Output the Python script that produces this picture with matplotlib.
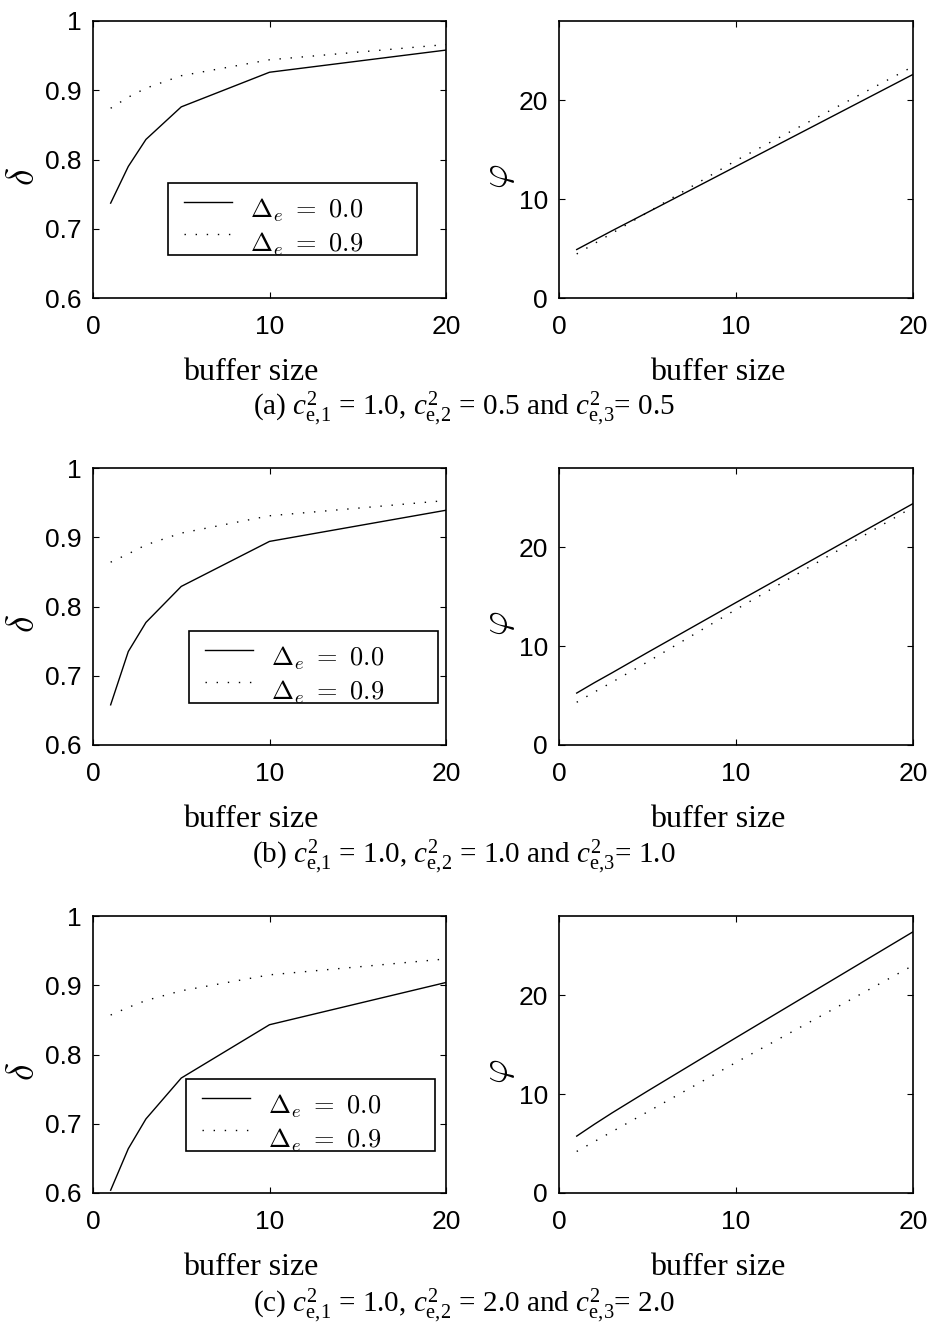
import matplotlib
matplotlib.use("Agg")
import matplotlib.pyplot as plt
from matplotlib.patches import Rectangle
from matplotlib.lines import Line2D

plt.rcParams["font.family"] = ["Liberation Sans", "DejaVu Sans"]
plt.rcParams["mathtext.fontset"] = "custom"
plt.rcParams["mathtext.rm"] = "Liberation Serif"
plt.rcParams["mathtext.it"] = "Liberation Serif:italic"
plt.rcParams["mathtext.bf"] = "Liberation Serif:bold"

# ---- data ---------------------------------------------------------------
buffer_sizes = [1, 2, 3, 5, 10, 20]

# throughput-like ratio delta
delta_a_e00 = [0.737, 0.790, 0.829, 0.876, 0.926, 0.958]
delta_a_e09 = [0.874, 0.890, 0.903, 0.921, 0.944, 0.966]
delta_b_e00 = [0.658, 0.735, 0.777, 0.829, 0.894, 0.939]
delta_b_e09 = [0.864, 0.876, 0.889, 0.906, 0.931, 0.953]
delta_c_e00 = [0.604, 0.664, 0.707, 0.766, 0.843, 0.904]
delta_c_e09 = [0.857, 0.868, 0.878, 0.892, 0.915, 0.938]

# work-in-process phi
phi_a_e00 = [4.9, 5.85, 6.8, 8.65, 13.3, 22.6]
phi_a_e09 = [4.45, 5.5, 6.55, 8.65, 13.9, 23.4]
phi_b_e00 = [5.25, 6.3, 7.3, 9.35, 14.4, 24.4]
phi_b_e09 = [4.32, 5.35, 6.35, 8.4, 13.7, 24.05]
phi_c_e00 = [5.75, 6.95, 8.1, 10.3, 15.7, 26.4]
phi_c_e09 = [4.2, 5.2, 6.2, 8.2, 13.2, 23.0]

legend_labels = [r"$\Delta_e\ =\ 0.0$", r"$\Delta_e\ =\ 0.9$"]
x_ticks = [0, 10, 20]
delta_ticks = [0.6, 0.7, 0.8, 0.9, 1.0]
delta_ticklabels = ["0.6", "0.7", "0.8", "0.9", "1"]
phi_ticks = [0, 10, 20]

captions = [
    r"(a) $c^2_{\mathrm{e},\!1}$ = 1.0, $c^2_{\mathrm{e},\!2}$ = 0.5 and $c^2_{\mathrm{e},\!3}$= 0.5",
    r"(b) $c^2_{\mathrm{e},\!1}$ = 1.0, $c^2_{\mathrm{e},\!2}$ = 1.0 and $c^2_{\mathrm{e},\!3}$= 1.0",
    r"(c) $c^2_{\mathrm{e},\!1}$ = 1.0, $c^2_{\mathrm{e},\!2}$ = 2.0 and $c^2_{\mathrm{e},\!3}$= 2.0",
]

rows = [
    (delta_a_e00, delta_a_e09, phi_a_e00, phi_a_e09),
    (delta_b_e00, delta_b_e09, phi_b_e00, phi_b_e09),
    (delta_c_e00, delta_c_e09, phi_c_e00, phi_c_e09),
]

# ---- layout (pixels) ----------------------------------------------------
W, H = 932, 1325
row_tops = [21, 468, 916]
ax_h = 277
left_x, left_w = 93, 353
right_x, right_w = 559, 354
legend_boxes = [(75, 162), (96, 163), (93, 163)]  # offset of legend box inside left axes
leg_w, leg_h = 249, 72
caption_baselines = [416, 864, 1313]

DOT = (0, (1, 7))

fig = plt.figure(figsize=(W / 100, H / 100), dpi=100)


def px_axes(x, top, w, h):
    return fig.add_axes([x / W, 1 - (top + h) / H, w / W, h / H])


def style(ax):
    for s in ax.spines.values():
        s.set_linewidth(1.2)
    ax.tick_params(direction="in", top=True, right=True, length=4, width=0.8,
                   labelsize=19)
    ax.tick_params(axis="x", pad=12)
    ax.tick_params(axis="y", pad=8)


def draw_legend(ax, off):
    bx, by = off
    aw, ah = left_w, ax_h

    def fx(p):
        return (bx + p) / aw

    def fy(p):
        return 1 - (by + p) / ah

    rect = Rectangle((fx(0), fy(leg_h)), leg_w / aw, leg_h / ah,
                     transform=ax.transAxes, facecolor="white",
                     edgecolor="black", linewidth=1.2, zorder=5)
    ax.add_patch(rect)
    styles = ["-", DOT]
    line_y = [19, 51]
    text_y = [35, 69]
    for ls, ly, ty, lab in zip(styles, line_y, text_y, legend_labels):
        ln = Line2D([fx(16), fx(64)], [fy(ly), fy(ly)], transform=ax.transAxes,
                    color="black", linewidth=1.0, linestyle=ls, zorder=6)
        ax.add_line(ln)
        t = ax.text(fx(82), fy(ty), lab, transform=ax.transAxes,
                    fontsize=19, va="baseline", ha="left", zorder=6)
        t.set_math_fontfamily("cm")
        t.set_clip_path(rect)


for i, (d0, d9, p0, p9) in enumerate(rows):
    top = row_tops[i]

    axl = px_axes(left_x, top, left_w, ax_h)
    axl.plot(buffer_sizes, d0, color="black", linewidth=1.0)
    axl.plot(buffer_sizes, d9, color="black", linewidth=1.0, linestyle=DOT)
    axl.set_xlim(0, 20)
    axl.set_ylim(0.6, 1.0)
    axl.set_xticks(x_ticks)
    axl.set_yticks(delta_ticks)
    axl.set_yticklabels(delta_ticklabels)
    style(axl)
    axl.set_xlabel("buffer size", fontsize=23, family="Liberation Serif")
    axl.xaxis.label.set_va("baseline")
    axl.xaxis.set_label_coords(0.448, -(380 - 298) / ax_h)
    axl.set_ylabel(r"$\delta$", fontsize=27)
    axl.yaxis.label.set_math_fontfamily("cm")
    axl.yaxis.label.set_va("center")
    axl.yaxis.set_label_coords(-(93 - 24) / left_w, (298 - 177) / ax_h)
    draw_legend(axl, legend_boxes[i])

    axr = px_axes(right_x, top, right_w, ax_h)
    axr.plot(buffer_sizes, p0, color="black", linewidth=1.0)
    axr.plot(buffer_sizes, p9, color="black", linewidth=1.0, linestyle=DOT)
    axr.set_xlim(0, 20)
    axr.set_ylim(0, 28)
    axr.set_xticks(x_ticks)
    axr.set_yticks(phi_ticks)
    style(axr)
    axr.set_xlabel("buffer size", fontsize=23, family="Liberation Serif")
    axr.xaxis.label.set_va("baseline")
    axr.xaxis.set_label_coords(0.448, -(380 - 298) / ax_h)
    axr.set_ylabel(r"$\varphi$", fontsize=27)
    axr.yaxis.label.set_math_fontfamily("cm")
    axr.yaxis.label.set_va("center")
    axr.yaxis.set_label_coords(-(559 - 499) / right_w, (298 - 176) / ax_h)

    fig.text(464 / W, 1 - caption_baselines[i] / H, captions[i],
             fontsize=21, family="Liberation Serif", ha="center",
             va="baseline")

fig.savefig("out.png", dpi=100)
